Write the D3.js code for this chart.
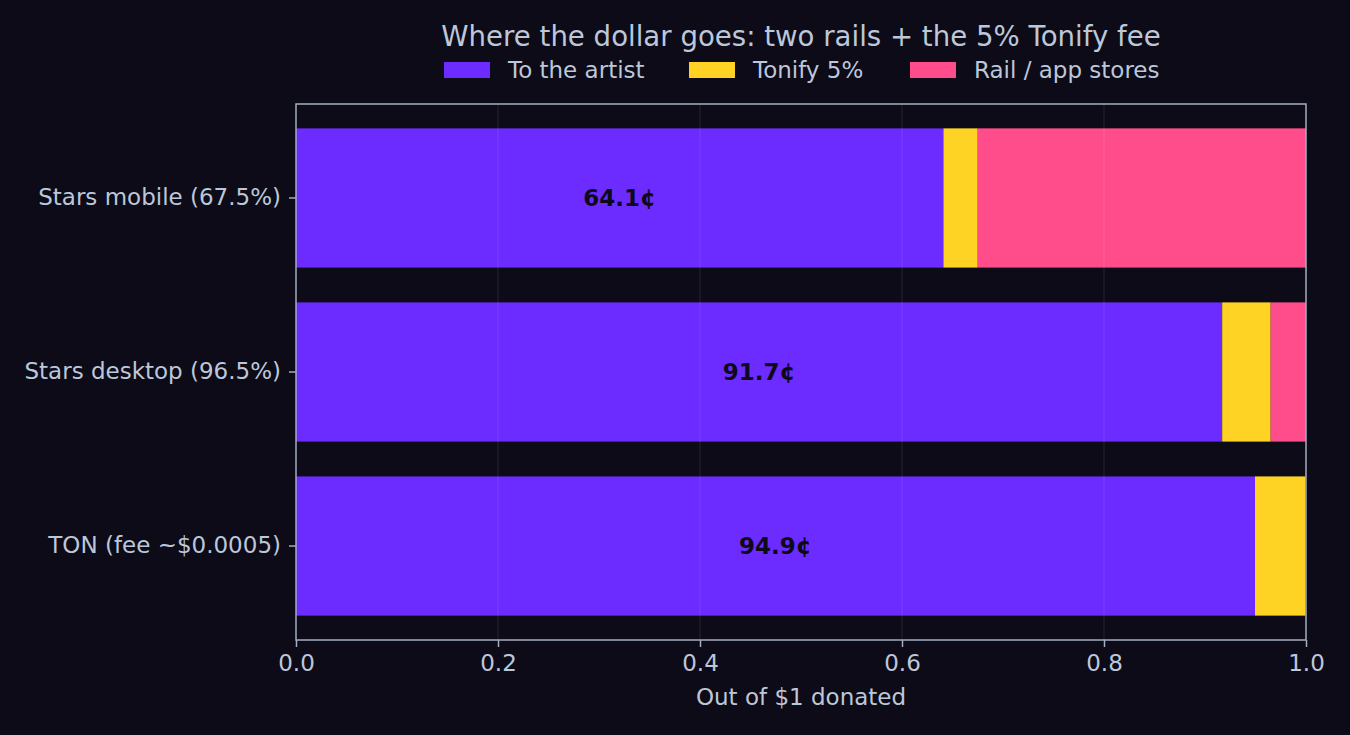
<!DOCTYPE html>
<html>
<head>
<meta charset="utf-8">
<script src="https://cdn.jsdelivr.net/npm/d3@7"></script>
<style>
  body { margin: 0; background: #0c0b17; }
  text { font-family: "DejaVu Sans", sans-serif; }
</style>
</head>
<body>
<div id="chart"></div>
<script>
// data
const rails = ["Stars mobile (67.5%)", "Stars desktop (96.5%)", "TON (fee ~$0.0005)"];
const artistShare = [0.641, 0.917, 0.9495];
const tonifyShare = [0.034, 0.048, 0.05];
const railShare = [0.325, 0.035, 0.0005];
const seriesNames = ["To the artist", "Tonify 5%", "Rail / app stores"];
const seriesColors = ["#6c2bff", "#ffd324", "#ff4d8b"];
const barLabels = ["64.1¢", "91.7¢", "94.9¢"];
const xTicks = [0, 0.2, 0.4, 0.6, 0.8, 1.0];

const W = 1350, H = 735;
const margin = { top: 104, right: 44, bottom: 95, left: 296 };
const width = W - margin.left - margin.right,
      height = H - margin.top - margin.bottom;

const textColor = "#bcc7da";
const spineColor = "#a3aec2";
const fs = "23px";

const svg = d3.select("#chart")
  .append("svg")
    .attr("width", W)
    .attr("height", H)
    .style("background", "#0c0b17");

const g = svg.append("g")
  .attr("transform", `translate(${margin.left},${margin.top})`);

const x = d3.scaleLinear().domain([0, 1]).range([0, width]);
const y = d3.scaleBand().domain(rails).range([0, height])
  .paddingInner(0.2).paddingOuter(0.14);

// stack the three parts
const rows = rails.map((r, i) => ({
  rail: r, artist: artistShare[i], tonify: tonifyShare[i], railfee: railShare[i]
}));
const stack = d3.stack().keys(["artist", "tonify", "railfee"]);
const layers = stack(rows);

g.selectAll("g.layer")
  .data(layers)
  .enter()
  .append("g")
    .attr("class", "layer")
    .attr("fill", (d, i) => seriesColors[i])
  .selectAll("rect")
  .data(d => d)
  .enter()
  .append("rect")
    .attr("x", d => x(d[0]))
    .attr("y", d => y(d.data.rail))
    .attr("width", d => x(d[1]) - x(d[0]))
    .attr("height", y.bandwidth());

// grid on top, faint
g.append("g")
  .selectAll("line")
  .data(xTicks.slice(1, -1))
  .enter()
  .append("line")
    .attr("x1", d => x(d)).attr("x2", d => x(d))
    .attr("y1", 0).attr("y2", height)
    .attr("stroke", "#ffffff")
    .attr("stroke-opacity", 0.07)
    .attr("stroke-width", 1.5);

// labels in the artist bar
g.selectAll("text.val")
  .data(rows)
  .enter()
  .append("text")
    .attr("class", "val")
    .attr("x", d => x(d.artist / 2))
    .attr("y", d => y(d.rail) + y.bandwidth() / 2)
    .attr("dy", "0.35em")
    .attr("text-anchor", "middle")
    .style("font-size", fs)
    .style("font-weight", "bold")
    .style("fill", "#0c0b17")
    .text((d, i) => barLabels[i]);

// frame
g.append("rect")
  .attr("width", width).attr("height", height)
  .attr("fill", "none")
  .attr("stroke", spineColor)
  .attr("stroke-width", 1.5);

// axes
const xAxis = g.append("g")
  .attr("transform", `translate(0,${height})`)
  .call(d3.axisBottom(x).tickValues(xTicks).tickFormat(d3.format(".1f")).tickSize(7).tickPadding(8));
const yAxis = g.append("g")
  .call(d3.axisLeft(y).tickSize(7).tickPadding(8));

[xAxis, yAxis].forEach(a => {
  a.select(".domain").remove();
  a.selectAll("line").attr("stroke", spineColor).attr("stroke-width", 1.5);
  a.selectAll("text").style("fill", textColor).style("font-size", fs)
    .style("font-family", "DejaVu Sans, sans-serif");
});

// axis label
svg.append("text")
  .attr("x", margin.left + width / 2)
  .attr("y", 705)
  .attr("text-anchor", "middle")
  .style("fill", textColor)
  .style("font-size", fs)
  .text("Out of $1 donated");

// title
svg.append("text")
  .attr("x", margin.left + width / 2)
  .attr("y", 46)
  .attr("text-anchor", "middle")
  .style("fill", textColor)
  .style("font-size", "27.6px")
  .text("Where the dollar goes: two rails + the 5% Tonify fee");

// legend
const legendX = [444, 689, 910];
const legend = svg.append("g")
  .selectAll("g")
  .data(seriesNames)
  .enter()
  .append("g")
    .attr("transform", (d, i) => `translate(${legendX[i]},62)`);
legend.append("rect")
  .attr("width", 46).attr("height", 16)
  .attr("fill", (d, i) => seriesColors[i]);
legend.append("text")
  .attr("x", 64).attr("y", 8).attr("dy", "0.35em")
  .style("fill", textColor)
  .style("font-size", fs)
  .text(d => d);
</script>
</body>
</html>
